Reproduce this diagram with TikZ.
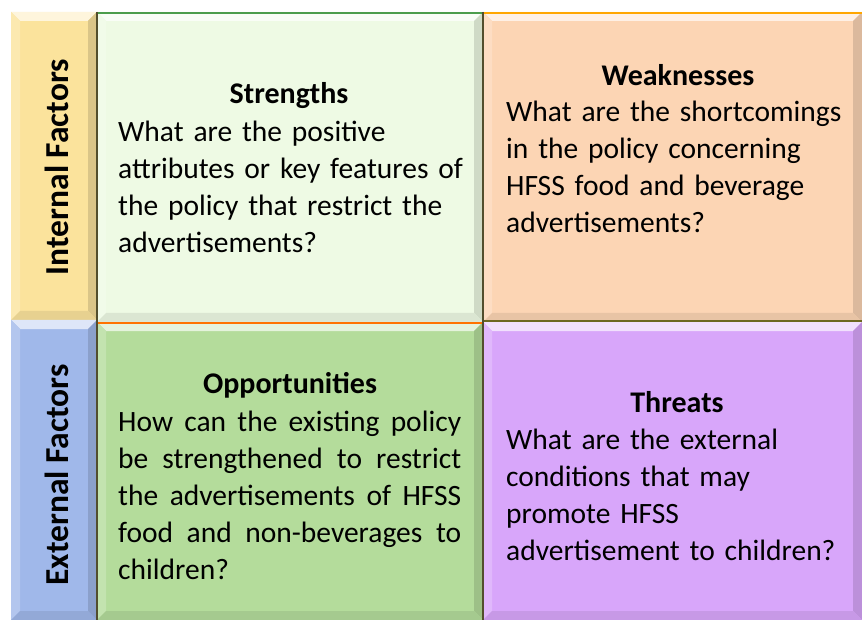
\documentclass[tikz,border=0pt]{standalone}
\usepackage{fontspec}
\setmainfont{Carlito}
\definecolor{cYel}{HTML}{FBE39C}
\definecolor{cBlu}{HTML}{A0B8EA}
\definecolor{cStr}{HTML}{EEFAE4}
\definecolor{cWea}{HTML}{FCD5B4}
\definecolor{cOpp}{HTML}{B4DC9B}
\definecolor{cThr}{HTML}{D8A6FA}
\newcommand{\bevelbox}[5]{%
  % #1,#2 top-left ; #3,#4 bottom-right ; #5 colour
  \fill[#5] (#1,#2) rectangle (#3,#4);
  \fill[#5!35!white] (#1,#2) -- (#3,#2) -- ([xshift=-9pt,yshift=-9pt]#3,#2) -- ([xshift=9pt,yshift=-9pt]#1,#2) -- cycle;
  \fill[#5!80!white] (#1,#2) -- ([xshift=9pt,yshift=-9pt]#1,#2) -- ([xshift=9pt,yshift=9pt]#1,#4) -- (#1,#4) -- cycle;
  \fill[#5!87!black] (#3,#2) -- ([xshift=-9pt,yshift=-9pt]#3,#2) -- ([xshift=-9pt,yshift=9pt]#3,#4) -- (#3,#4) -- cycle;
  \fill[#5!92!black] (#1,#4) -- ([xshift=9pt,yshift=9pt]#1,#4) -- ([xshift=-9pt,yshift=9pt]#3,#4) -- (#3,#4) -- cycle;
}
\tikzset{
  head/.style={font=\fontsize{30}{37}\selectfont\bfseries, inner sep=0pt, anchor=base},
  body/.style={font=\fontsize{29.5}{37}\selectfont, inner sep=0pt, anchor=base west, text width=365pt, align=left},
  side/.style={font=\fontsize{33.5}{38}\selectfont\bfseries, inner sep=0pt, rotate=90}
}
\begin{document}
\begin{tikzpicture}[x=1pt,y=-1pt]
\useasboundingbox (0,0) rectangle (862,620);
\fill[white] (0,0) rectangle (862,620);
% boxes
\bevelbox{11}{12}{97}{320}{cYel}
\bevelbox{11}{320}{97}{620}{cBlu}
\bevelbox{97}{12}{483}{322}{cStr}
\bevelbox{483}{12}{862}{322}{cWea}
\bevelbox{97}{322}{483}{620}{cOpp}
\bevelbox{483}{322}{862}{620}{cThr}
% accent lines
\draw[line width=2pt, green!45!black!70!white] (97,13) -- (483,13);
\draw[line width=2.5pt, orange!70!yellow] (483,13) -- (862,13);
\draw[line width=2.5pt, orange!90!red] (97,323) -- (483,323);
\draw[line width=1.5pt, olive!70!black] (483,321) -- (862,321);
\draw[line width=2pt, black!55!olive] (97,12) -- (97,620);
\draw[line width=2pt, black!55!olive] (483,12) -- (483,620);
% side labels
\node[side] (intf) at (57,167) {Internal Factors};
\node[side] (extf) at (57,475) {External Factors};
% Strengths
\node[head] (sh) at (289,104) {Strengths};
\node[body] (sb) at (118,142) {What are the positive\\attributes or key features of\\the policy that restrict the\\advertisements?};
% Weaknesses
\node[head] (wh) at (678,86) {Weaknesses};
\node[body] (wb) at (506,122) {What are the shortcomings\\in the policy concerning\\HFSS food and beverage\\advertisements?};
% Opportunities
\node[head] (oh) at (290,393) {Opportunities};
\node[body, text width=343pt, align=justify] (ob) at (118,431) {How can the existing policy\linebreak be strengthened to restrict\linebreak the advertisements of HFSS\linebreak food and non-beverages to\linebreak children?};
% Threats
\node[head] (th) at (677,412) {Threats};
\node[body] (tb) at (506,449) {What are the external\\conditions that may\\promote HFSS\\advertisement to children?};
\end{tikzpicture}
\end{document}
